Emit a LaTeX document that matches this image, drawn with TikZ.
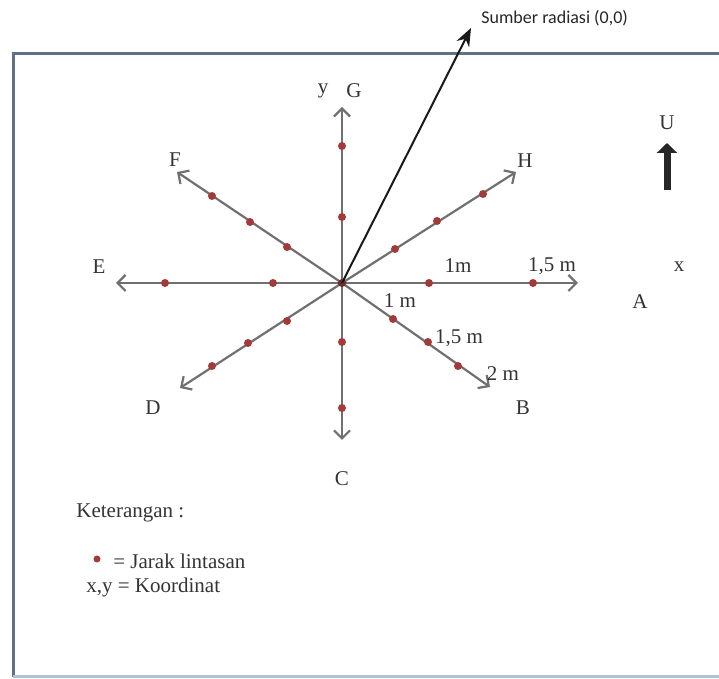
\documentclass[tikz,border=0pt]{standalone}
\usepackage{fontspec}
\setmainfont{Liberation Serif}
\newfontfamily\sumberfont{Carlito}
\usetikzlibrary{arrows.meta}
\definecolor{axisgray}{HTML}{707070}
\definecolor{dotred}{HTML}{A33A3A}
\definecolor{framegray}{HTML}{60728A}
\definecolor{framelight}{HTML}{AFC2D6}
\tikzset{
  axis/.style={draw=axisgray, line width=1.1pt, -{Straight Barb[length=4pt,width=8pt]}},
  dot/.style={circle, fill=dotred, inner sep=0pt, minimum size=4pt},
  lbl/.style={text=black!80, font=\fontsize{10.5}{12}\selectfont, inner sep=0pt},
}
\begin{document}
\begin{tikzpicture}[x=0.5pt, y=-0.5pt]
	  \useasboundingbox (0,0) rectangle (719,679);
	  % frame
	  \draw[framegray, line width=1.5pt] (760,54) -- (13,54) -- (13,677);
	  \draw[framelight, line width=1.5pt] (13,677) -- (760,677);

	  % centre and arrow ends
	  \coordinate (O) at (342,283);
	  \coordinate (endA) at (578,283);
	  \coordinate (endB) at (490,387);
	  \coordinate (endC) at (342,440);
	  \coordinate (endD) at (180,388);
	  \coordinate (endE) at (116,283);
	  \coordinate (endF) at (177,172);
	  \coordinate (endG) at (342,107);
	  \coordinate (endH) at (516,172);

	  \draw[axis] (O) -- (endA);
	  \draw[axis] (O) -- (endB);
	  \draw[axis] (O) -- (endC);
	  \draw[axis] (O) -- (endD);
	  \draw[axis] (O) -- (endE);
	  \draw[axis] (O) -- (endF);
	  \draw[axis] (O) -- (endG);
	  \draw[axis] (O) -- (endH);

	  % points on the paths
	  \node[dot, fill=dotred!70!black] (o) at (O) {};
	  \node[dot] (a1) at (429,283) {};
	  \node[dot] (a2) at (533,283) {};
	  \node[dot] (b1) at (393,319) {};
	  \node[dot] (b2) at (428,342) {};
	  \node[dot] (b3) at (458,366) {};
	  \node[dot] (c1) at (342,342) {};
	  \node[dot] (c2) at (342,408) {};
	  \node[dot] (d1) at (287,321) {};
	  \node[dot] (d2) at (248,343) {};
	  \node[dot] (d3) at (212,366) {};
	  \node[dot] (e1) at (273,283) {};
	  \node[dot] (e2) at (165,283) {};
	  \node[dot] (f1) at (287,247) {};
	  \node[dot] (f2) at (250,222) {};
	  \node[dot] (f3) at (212,196) {};
	  \node[dot] (g1) at (342,217) {};
	  \node[dot] (g2) at (342,146) {};
	  \node[dot] (h1) at (395,249) {};
	  \node[dot] (h2) at (437,221) {};
	  \node[dot] (h3) at (483,194) {};

	  % direction labels
	  \node[lbl] (A) at (640,302) {A};
	  \node[lbl] (B) at (523,408) {B};
	  \node[lbl] (C) at (342,479) {C};
	  \node[lbl] (D) at (153,408) {D};
	  \node[lbl] (E) at (99,267) {E};
	  \node[lbl] (F) at (175,160) {F};
	  \node[lbl] (G) at (354,91) {G};
	  \node[lbl] (H) at (525,161) {H};
	  \node[lbl] (ylbl) at (323,91) {y};
	  \node[lbl] (xlbl) at (679,267) {x};

	  % distances
	  \node[lbl] (a1m) at (458,266) {1m};
	  \node[lbl] (a15m) at (552,266) {1,5 m};
	  \node[lbl] (b1m) at (400,301) {1 m};
	  \node[lbl] (b15m) at (459,338) {1,5 m};
	  \node[lbl] (b2m) at (503,374) {2 m};

	  % source
	  \coordinate (src) at (471,28);
	  \draw[black!90, line width=1pt, -{Stealth[length=9pt,width=7pt]}] (O) -- (src);
	  \node[anchor=west, inner sep=0pt, text=black!85, font=\sumberfont\fontsize{9}{11}\selectfont] (sumber) at (481,18) {Sumber radiasi (0,0)};

	  % north
	  \node[lbl] (U) at (667,123) {U};
	  \coordinate (ubot) at (667,190);
	  \coordinate (utop) at (667,143);
	  \draw[black!85, line width=3.5pt, -{Triangle[length=5pt,width=10pt]}] (ubot) -- (utop);

	  % legend
	  \node[lbl, anchor=west] (ket) at (76,513) {Keterangan :};
	  \node[dot, minimum size=3.5pt] (legdot) at (97,559) {};
	  \node[lbl, anchor=west] (jarak) at (113,561) {= Jarak lintasan};
	  \node[lbl, anchor=west] (koord) at (86,587) {x,y = Koordinat};
	\end{tikzpicture}
\end{document}
